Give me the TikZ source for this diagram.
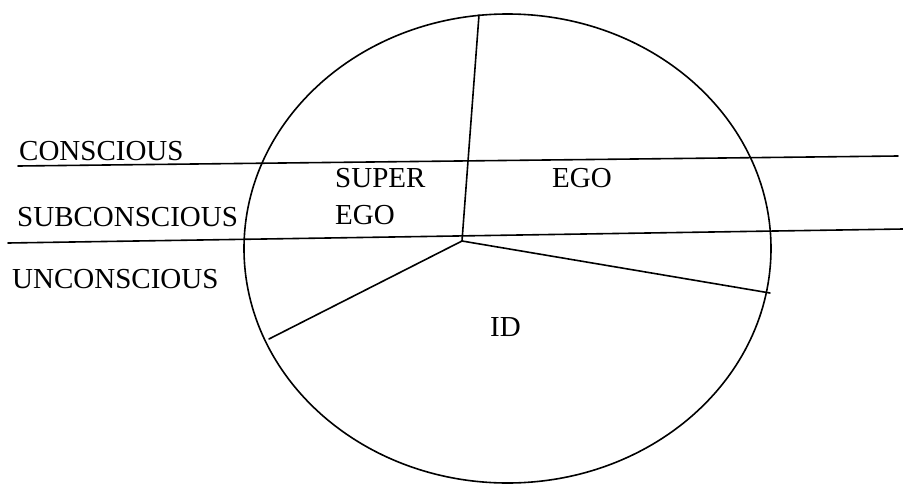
\documentclass[tikz,border=0pt]{standalone}
\usepackage{fontspec}
\setmainfont{Liberation Serif}
\usetikzlibrary{positioning}

\begin{document}
\begin{tikzpicture}[x=1pt,y=-1pt,
  lvl/.style={anchor=base west,inner sep=0pt,font=\fontsize{29}{37}\selectfont},
  part/.style={lvl},
  bound/.style={line width=1.6pt,line cap=round}
]
\useasboundingbox (0,0) rectangle (903,485);

% Psyche
\coordinate (ctr) at (507.5,248.5);
\draw[bound] (ctr) ellipse [x radius=263.5,y radius=234.5];

% Levels
\coordinate (cl) at (18,166);  \coordinate (cr) at (898,156);
\coordinate (sl) at (8,243);   \coordinate (sr) at (903,229);
\draw[bound] (cl) -- (cr);
\draw[bound] (sl) -- (sr);

% Parts
\coordinate (mid) at (462,241);
\coordinate (top) at (479,15);
\coordinate (rgt) at (770,293);
\coordinate (lft) at (269,339);
\draw[bound] (mid) -- (top);
\draw[bound] (mid) -- (rgt);
\draw[bound] (mid) -- (lft);

% Labels
\node[lvl] (con) at (19,160) {CONSCIOUS};
\node[lvl] (sub) at (17,226) {SUBCONSCIOUS};
\node[lvl] (unc) at (12,288) {UNCONSCIOUS};
\node[part] (sup) at (335,187) {SUPER};
\node[part] (supego) at (335,224) {EGO};
\node[part] (ego) at (552,187) {EGO};
\node[part] (id) at (490,336) {ID};
\end{tikzpicture}
\end{document}
